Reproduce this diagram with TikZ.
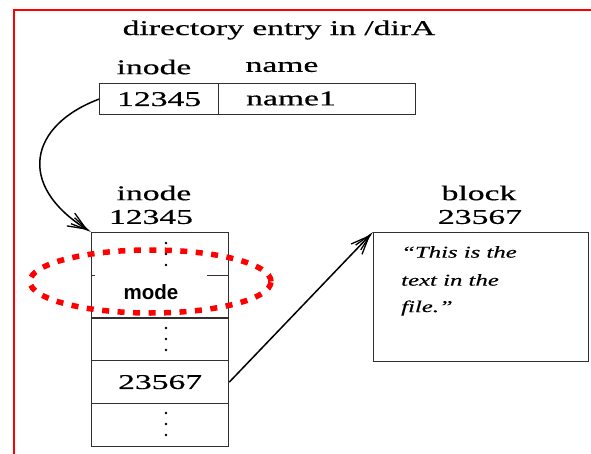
\documentclass[tikz,border=0pt]{standalone}
\usepackage{fontspec}
\setmainfont{Liberation Serif}
\newfontfamily\widefont[FakeStretch=1.6,FakeBold=0.5]{Liberation Serif}
\newfontfamily\wideitfont[FakeStretch=1.5,FakeBold=0.3]{Liberation Serif Italic}
\newfontfamily\labelfont{Liberation Sans}
\usetikzlibrary{arrows.meta,shapes.geometric}

\definecolor{boxline}{HTML}{303030}

\tikzset{
  lbl/.style={inner sep=0pt, font=\widefont\fontsize{21}{23}\selectfont},
  quote/.style={inner sep=0pt, anchor=west, font=\wideitfont\fontsize{16.5}{18}\selectfont},
  cell/.style={draw=boxline, line width=1.3pt, inner sep=0pt, anchor=north west,
               font=\widefont\fontsize{21}{23}\selectfont},
  slot/.style={cell, minimum width=137pt, minimum height=42.7pt},
  frameline/.style={draw=red, line width=2.5pt},
  pointer/.style={draw=black, line width=1.5pt,
    -{Straight Barb[length=18pt,width=15pt,line width=1.3pt,sep=-18pt]
      Straight Barb[length=18pt,width=7pt,line width=1.3pt]}},
  ring/.style={ellipse, draw=red, line width=5.5pt, dash pattern=on 7pt off 8.5pt,
               inner sep=0pt, minimum width=241pt, minimum height=63pt},
  vdots/.pic={
    \fill (0,-11) circle (1.3);
    \fill (0,0) circle (1.3);
    \fill (0,11) circle (1.3);
  }
}

\begin{document}
\begin{tikzpicture}[x=1pt,y=-1pt]
\useasboundingbox (0,0) rectangle (591,454);

% surrounding red frame (top and left edges)
\draw[frameline] (14,454) -- (14,10) -- (591,10);

% directory entry
\node[lbl] (dirhead) at (279,30) {directory entry in /dirA};
\node[lbl] (hinode) at (154,67) {inode};
\node[lbl] (hname) at (282,67) {name};
\node[cell, minimum width=119pt, minimum height=31pt] (tnum) at (99,83) {12345};
\node[cell, minimum width=197pt, minimum height=31pt] (tname) at (218,83) {};
\node[lbl, anchor=west] (tnametext) at (246,98.5) {name1};

% inode 12345
\node[lbl] (iinode) at (154,193) {inode};
\node[lbl] (inum) at (151,217) {12345};
\node[slot] (r1) at (91,232) {};
\node[slot] (r2) at (91,274.7) {};
\node[slot] (r3) at (91,317.4) {};
\node[slot] (r4) at (91,360.1) {23567};
\node[slot] (r5) at (91,402.8) {};
\pic at (166,254) {vdots};
\pic at (166,339) {vdots};
\pic at (166,424) {vdots};
\node[fill=white, inner sep=0pt, minimum width=112pt, minimum height=44pt,
      font=\labelfont\bfseries\fontsize{20.5}{22}\selectfont] (mode) at (151,292) {mode};

% data block 23567
\node[lbl] (bword) at (479,193) {block};
\node[lbl] (bnum) at (480,217) {23567};
\node[cell, minimum width=214.5pt, minimum height=128.5pt] (blk) at (373,232) {};
\node[quote] (q1) at (401,252) {“This is the};
\node[quote] (q2) at (401,280) {text in the};
\node[quote] (q3) at (401,308) {file.”};

% highlight around the mode field
\node[ring] (modering) at (150.5,281.5) {};

% pointers
\draw[pointer] (tnum.west) .. controls (30,125) and (15,185) .. (r1.north west);
\draw[pointer] (r4.east) -- (blk.north west);
\end{tikzpicture}
\end{document}
